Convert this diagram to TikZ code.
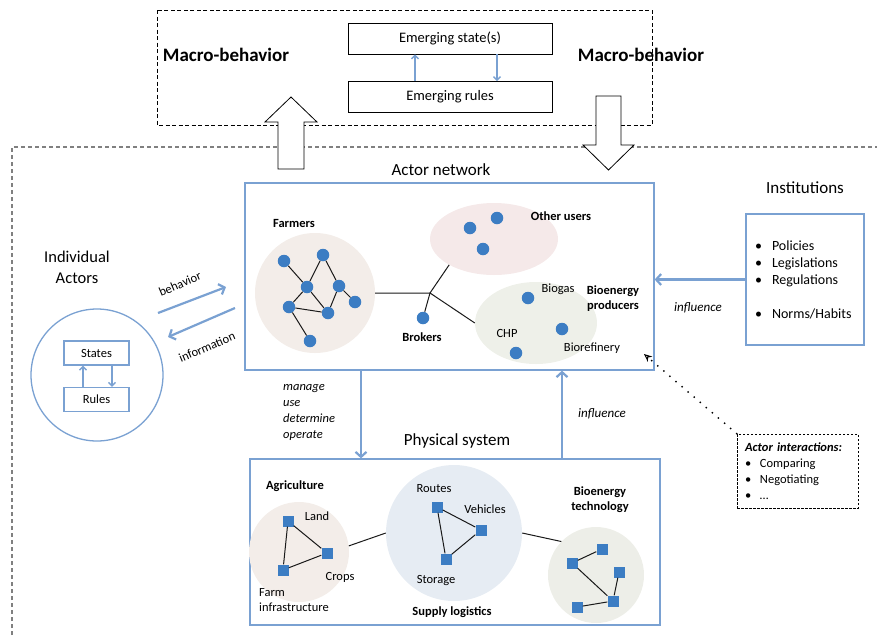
\documentclass[tikz,border=0pt]{standalone}
\usepackage{fontspec}
\setmainfont{Carlito}
\usetikzlibrary{arrows.meta,shapes.geometric}

\definecolor{lineblue}{RGB}{122,161,210}
\definecolor{dotblue}{RGB}{60,125,195}
\definecolor{farmfill}{RGB}{243,237,233}
\definecolor{userfill}{RGB}{245,233,233}
\definecolor{prodfill}{RGB}{238,240,233}
\definecolor{logfill}{RGB}{230,236,243}
\definecolor{techfill}{RGB}{237,238,232}

\begin{document}
\begin{tikzpicture}[x=1pt,y=-1pt,
    bluebox/.style={draw=lineblue,line width=1.3pt},
    bluearrow/.style={draw=lineblue,line width=2.2pt,-{Straight Barb[length=5pt,width=11pt]}},
    smallarrow/.style={draw=lineblue,line width=1.4pt,-{Straight Barb[length=3.5pt,width=7pt]}},
    blackbox/.style={draw=black,line width=0.8pt},
    hollow/.style={draw=black,fill=white,line width=0.8pt},
    dot/.style={circle,fill=dotblue,inner sep=0pt,minimum size=12.5pt},
    sq/.style={rectangle,fill=dotblue,inner sep=0pt,minimum size=11pt},
    link/.style={draw=black!90,line width=1pt},
    group/.style={circle,inner sep=0pt},
    lbl/.style={font=\fontsize{12.5}{15}\selectfont,inner sep=0pt},
    blbl/.style={font=\bfseries\fontsize{12.5}{15}\selectfont,align=center,inner sep=0pt},
    title/.style={font=\fontsize{17}{21}\selectfont,inner sep=0pt}]
        \useasboundingbox (0,0) rectangle (877,635);
        % frames
        \draw[gray,line width=1.3pt,dash pattern=on 4pt off 3pt] (12,635) -- (12,147) -- (877,147);
        \draw[line width=0.8pt,dash pattern=on 4pt off 2.5pt] (157,10) rectangle (652,125);
        % macro level
        \node[font=\bfseries\fontsize{19}{22}\selectfont] (macroL) at (226,55) {Macro-behavior};
        \node[font=\bfseries\fontsize{19}{22}\selectfont] (macroR) at (641,55) {Macro-behavior};
        \node[blackbox,minimum width=204pt,minimum height=31pt,font=\fontsize{14.5}{17}\selectfont] (state) at (450,38.5) {Emerging state(s)};
        \node[blackbox,minimum width=204pt,minimum height=31pt,font=\fontsize{14.5}{17}\selectfont] (rules) at (450,97) {Emerging rules};
        \draw[smallarrow] ([xshift=-35pt]rules.north) -- ([xshift=-35pt]state.south);
        \draw[smallarrow] ([xshift=47pt]state.south) -- ([xshift=47pt]rules.north);
        \draw[hollow] (278,169) -- (278,122) -- (265,122) -- (291,97) -- (317,122) -- (304,122) -- (304,169) -- cycle;
        \draw[hollow] (596,96) -- (596,145) -- (583,145) -- (608.5,170) -- (634,145) -- (621,145) -- (621,96) -- cycle;
        % actor network
        \node[title] (actlabel) at (441,170) {Actor network};
        \node[bluebox,minimum width=409pt,minimum height=187pt] (actnet) at (449.5,276.5) {};
        \node[group,fill=farmfill,minimum size=120pt] (farmers) at (315,293) {};
        \node[ellipse,fill=userfill,minimum width=128pt,minimum height=72pt,inner sep=0pt] (users) at (494,239) {};
        \node[ellipse,fill=prodfill,minimum width=122pt,minimum height=82pt,inner sep=0pt] (producers) at (536,323) {};
        \node[blbl] at (294,223) {Farmers};
        \node[blbl] at (561,216) {Other users};
        \node[blbl] at (613,299) {Bioenergy\\producers};
        \node[blbl] at (422,337) {Brokers};
        \node[lbl] at (558,289) {Biogas};
        \node[lbl] at (507,333) {CHP};
        \node[lbl] at (592,348) {Biorefinery};
        \node[dot] (f1) at (284,261) {};
        \node[dot] (f2) at (323,255) {};
        \node[dot] (f3) at (307,287) {};
        \node[dot] (f4) at (339,286) {};
        \node[dot] (f5) at (355,302) {};
        \node[dot] (f6) at (289,307) {};
        \node[dot] (f7) at (328,313) {};
        \node[dot] (f8) at (310,341) {};
        \draw[link] (f1) -- (f3) (f2) -- (f3) (f2) -- (f4) (f3) -- (f6) (f3) -- (f7)
                    (f6) -- (f7) (f7) -- (f4) (f4) -- (f5) (f6) -- (f8);
        \node[dot] (u1) at (470,228) {};
        \node[dot] (u2) at (497,218) {};
        \node[dot] (u3) at (483,249) {};
        \node[dot] (biogas) at (528,298) {};
        \node[dot] (biorefinery) at (562,329) {};
        \node[dot] (chp) at (516,353) {};
        \node[dot] (broker) at (423,318) {};
        \coordinate (hub) at (430,293);
        \draw[link] (farmers.east) -- (hub) -- (users.210);
        \draw[link] (hub) -- (producers.west);
        \draw[link] (hub) -- (broker);
        % individual actors
        \node[title,align=center,font=\fontsize{16.5}{21}\selectfont] (indlabel) at (77,267) {Individual\\Actors};
        \node[bluebox,circle,minimum size=132pt,inner sep=0pt] (indiv) at (97,375) {};
        \node[bluebox,minimum width=65pt,minimum height=24pt,font=\fontsize{12.5}{15}\selectfont] (states) at (96.5,353) {States};
        \node[bluebox,minimum width=65pt,minimum height=24pt,font=\fontsize{12.5}{15}\selectfont] (rulesI) at (96.5,399.5) {Rules};
        \draw[smallarrow] ([xshift=-13.5pt]rulesI.north) -- ([xshift=-13.5pt]states.south);
        \draw[smallarrow] ([xshift=15.5pt]states.south) -- ([xshift=15.5pt]rulesI.north);
        \coordinate (b1) at (158,313);
        \coordinate (b2) at (226,287);
        \coordinate (i1) at (235,308);
        \coordinate (i2) at (168,337);
        \draw[bluearrow] (b1) -- (b2);
        \draw[bluearrow] (i1) -- (i2);
        \node[lbl,rotate=23] at (180,284) {behavior};
        \node[lbl,rotate=23] at (207,347) {information};
        % institutions
        \node[title] (instlabel) at (805,188) {Institutions};
        \node[bluebox,minimum width=118pt,minimum height=131pt,text width=100pt,inner sep=9pt,align=left,
              font=\fontsize{14}{17}\selectfont] (inst) at (805,279.5)
              {\makebox[17pt][l]{\textbullet}Policies\\\makebox[17pt][l]{\textbullet}Legislations\\
               \makebox[17pt][l]{\textbullet}Regulations\\[17pt]\makebox[17pt][l]{\textbullet}Norms/Habits};
        \draw[bluearrow] (inst.west) -- (inst.west -| actnet.east);
        \node[lbl,font=\itshape\fontsize{13}{15}\selectfont] at (698,308) {influence};
        % actor interactions
        \node[draw,line width=0.7pt,dash pattern=on 2.5pt off 1.5pt,minimum width=121pt,minimum height=74pt,
              text width=105pt,inner sep=8pt,align=left,font=\fontsize{12.5}{16}\selectfont] (ai) at (797.5,471)
              {\textbf{\textit{Actor interactions:}}\\\makebox[15pt][l]{\textbullet}Comparing\\
               \makebox[15pt][l]{\textbullet}Negotiating\\\makebox[15pt][l]{\textbullet}…};
        \coordinate (aitip) at (644,354);
        \draw[line width=2pt,line cap=round,dash pattern=on 0pt off 8pt,-{Stealth[length=8pt,width=7pt,open,line width=1pt]}] (ai.north west) -- (aitip);
        % physical system
        \node[title] (physlabel) at (457,441) {Physical system};
        \node[bluebox,minimum width=410pt,minimum height=166pt] (phys) at (455,542) {};
        \coordinate (downx) at (361,0);
        \coordinate (upx) at (562,0);
        \draw[bluearrow] (actnet.south -| downx) -- (phys.north -| downx);
        \draw[bluearrow] (phys.north -| upx) -- (actnet.south -| upx);
        \node[lbl,font=\itshape\fontsize{12.5}{15.7}\selectfont,align=left,anchor=west] at (283,412.5) {manage\\use\\determine\\operate};
        \node[lbl,font=\itshape\fontsize{13}{15}\selectfont] at (602,414) {influence};
        \node[group,fill=farmfill,minimum size=100pt] (agri) at (299,552) {};
        \node[group,fill=logfill,minimum size=136pt] (supply) at (454,533) {};
        \node[group,fill=techfill,minimum size=96pt] (tech) at (596,575) {};
        \draw[link] (agri.7) -- (supply.180);
        \draw[link] (supply.0) -- (tech.136);
        \node[blbl] at (295,486) {Agriculture};
        \node[blbl] at (452,612) {Supply logistics};
        \node[blbl] at (600,500) {Bioenergy\\technology};
        \node[lbl] at (317,516) {Land};
        \node[lbl] at (340,577) {Crops};
        \node[lbl,align=left,anchor=west] at (259,600) {Farm\\infrastructure};
        \node[lbl] at (434,489) {Routes};
        \node[lbl] at (485,509) {Vehicles};
        \node[lbl] at (436,581) {Storage};
        \node[sq] (land) at (288,521) {};
        \node[sq] (crops) at (327,553) {};
        \node[sq] (farm) at (283,570) {};
        \draw[link] (land) -- (crops) (land) -- (farm) (farm) -- (crops);
        \node[sq] (routes) at (437,507) {};
        \node[sq] (vehicles) at (481,530) {};
        \node[sq] (storage) at (446,559) {};
        \draw[link] (routes) -- (vehicles) (routes) -- (storage) (storage) -- (vehicles);
        \node[sq] (t1) at (602,549) {};
        \node[sq] (t2) at (572,563) {};
        \node[sq] (t3) at (619,572) {};
        \node[sq] (t4) at (613,601) {};
        \node[sq] (t5) at (577,607) {};
        \draw[link] (t2) -- (t1) (t2) -- (t4) (t4) -- (t3) (t4) -- (t5);
      \end{tikzpicture}
\end{document}
